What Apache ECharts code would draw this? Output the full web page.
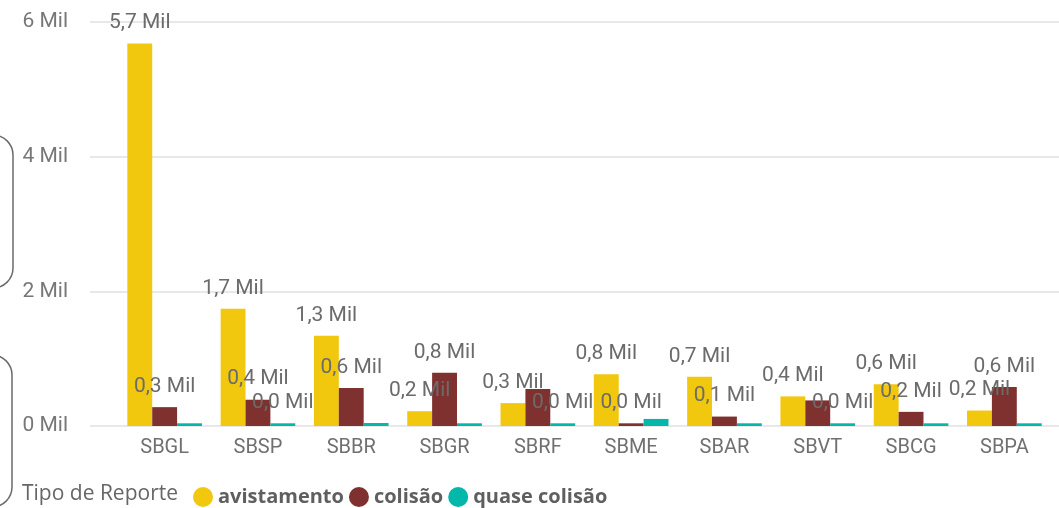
<!DOCTYPE html>
<html>
<head>
<meta charset="utf-8">
<script src="https://cdn.jsdelivr.net/npm/echarts@6/dist/echarts.min.js"></script>
<style>
html,body{margin:0;padding:0;background:#fff;}
#chart{width:1059px;height:508px;}
</style>
</head>
<body>
<div id="chart"></div>
<script>
const categories = ['SBGL','SBSP','SBBR','SBGR','SBRF','SBME','SBAR','SBVT','SBCG','SBPA'];
const avistamento = [5680, 1740, 1340, 220, 340, 770, 730, 440, 620, 230];
const colisao = [280, 390, 565, 790, 550, 40, 140, 380, 210, 580];
const quaseColisao = [40, 40, 45, 40, 40, 105, 40, 40, 40, 40];
// which data labels are visible in the reference (others hidden by overlap)
const showAvist = [1,1,1,1,1,1,1,1,1,1];
const showColisao = [1,1,1,1,0,1,1,0,1,1];
const showQuase = [0,1,0,0,1,0,0,1,0,0];
const yTicks = [0, 2000, 4000, 6000];

const fmt = v => (v/1000).toFixed(1).replace('.', ',') + ' Mil';
const mk = (vals, mask) => vals.map((v,i) => ({value: v, label: {show: !!mask[i]}}));

const labelStyle = {
  show: true, position: 'top', distance: 10,
  color: '#6b6b6b', fontSize: 21, fontFamily: 'Roboto',
  formatter: p => fmt(p.value)
};

const chart = echarts.init(document.getElementById('chart'));
chart.setOption({
  animation: false,
  textStyle: {fontFamily: 'Roboto'},
  grid: [
    {left: 118, right: 8, top: 22, bottom: 82},
    {left: 90, right: 0, top: 22, bottom: 82}
  ],
  xAxis: [
    {type: 'category', gridIndex: 0, data: categories,
     axisLine: {show: false}, axisTick: {show: false},
     axisLabel: {color: '#707070', fontSize: 20, margin: 12, fontFamily: 'Roboto'}},
    {type: 'value', gridIndex: 1, show: false, min: 0, max: 1}
  ],
  yAxis: [
    {type: 'value', gridIndex: 0, min: 0, max: yTicks[yTicks.length-1], interval: 2000, show: false},
    {type: 'value', gridIndex: 1, min: 0, max: yTicks[yTicks.length-1], interval: 2000,
     axisLine: {show: false}, axisTick: {show: false},
     axisLabel: {color: '#777', fontSize: 21, margin: 22, fontFamily: 'Roboto',
                 formatter: v => (v/1000) + ' Mil'},
     splitLine: {lineStyle: {color: '#e8e8e8', width: 2}}}
  ],
  legend: {
    left: 188, top: 482, itemWidth: 20, itemHeight: 20, itemGap: 5,
    icon: 'circle',
    textStyle: {color: '#5f5f5f', fontSize: 20, fontWeight: 'bold', fontFamily: 'Open Sans'},
    data: ['avistamento', 'colisão', 'quase colisão']
  },
  graphic: [
    {type: 'text', left: 22, top: 484,
     style: {text: 'Tipo de Reporte', fill: '#666', fontSize: 21, fontFamily: 'Open Sans'}},
    {type: 'rect', shape: {x: -30, y: 135, width: 43, height: 153, r: 20},
     style: {fill: 'none', stroke: '#6a6a6a', lineWidth: 1.5}},
    {type: 'rect', shape: {x: -30, y: 355, width: 42, height: 152, r: 20},
     style: {fill: 'none', stroke: '#6a6a6a', lineWidth: 1.5}}
  ],
  series: [
    {name: 'avistamento', type: 'bar', xAxisIndex: 0, yAxisIndex: 0,
     data: mk(avistamento, showAvist), itemStyle: {color: '#F2C80F'},
     barGap: '0%', barCategoryGap: '20%', label: labelStyle},
    {name: 'colisão', type: 'bar', xAxisIndex: 0, yAxisIndex: 0,
     data: mk(colisao, showColisao), itemStyle: {color: '#7F312F'},
     barGap: '0%', barCategoryGap: '20%', label: labelStyle},
    {name: 'quase colisão', type: 'bar', xAxisIndex: 0, yAxisIndex: 0,
     data: mk(quaseColisao, showQuase), itemStyle: {color: '#01B8AA'},
     barGap: '0%', barCategoryGap: '20%', label: labelStyle}
  ]
});
</script>
</body>
</html>
